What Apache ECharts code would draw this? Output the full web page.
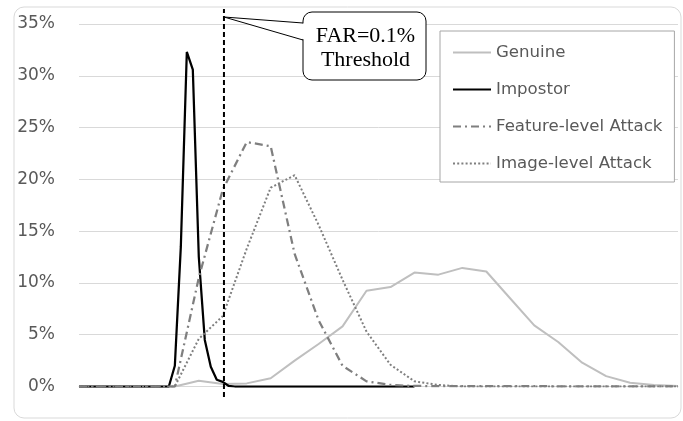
<!DOCTYPE html>
<html>
<head>
<meta charset="utf-8">
<script src="https://cdn.jsdelivr.net/npm/echarts@6/dist/echarts.min.js"></script>
<style>
html,body{margin:0;padding:0;background:#fff;}
#c{width:683px;height:421px;}
</style>
</head>
<body>
<div id="c"></div>
<script>
// ---- data ----
var seriesNames = ['Genuine', 'Impostor', 'Feature-level Attack', 'Image-level Attack'];
var yTicks = [0, 5, 10, 15, 20, 25, 30, 35];

var genuineX = [0, 0.04, 0.08, 0.12, 0.16, 0.20, 0.24, 0.28, 0.32, 0.36, 0.40, 0.44, 0.48, 0.52, 0.56, 0.60, 0.64, 0.68, 0.72, 0.76, 0.80, 0.84, 0.88, 0.92, 0.96, 1.00];
var genuineY = [0, 0, 0, 0, 0, 0.55, 0.25, 0.3, 0.8, 2.5, 4.1, 5.8, 9.25, 9.6, 11.0, 10.8, 11.45, 11.1, 8.5, 5.9, 4.3, 2.3, 1.0, 0.37, 0.15, 0.05];

var impostorX = [0, 0.15, 0.16, 0.17, 0.18, 0.19, 0.20, 0.21, 0.22, 0.23, 0.24, 0.25, 0.26, 0.56];
var impostorY = [0, 0, 2.0, 13.5, 32.3, 30.6, 12.5, 4.5, 1.9, 0.65, 0.45, 0.05, 0, 0];

var featureX = [0, 0.16, 0.20, 0.24, 0.28, 0.32, 0.36, 0.40, 0.44, 0.48, 0.52, 0.56, 1.00];
var featureY = [0, 0, 10.5, 19.0, 23.6, 23.2, 12.8, 6.4, 2.0, 0.5, 0.15, 0.05, 0];

var imageX = [0, 0.16, 0.20, 0.24, 0.28, 0.32, 0.36, 0.40, 0.44, 0.48, 0.52, 0.56, 0.60, 0.64, 1.00];
var imageY = [0, 0, 4.6, 6.8, 13.3, 19.2, 20.4, 15.6, 10.3, 5.3, 2.1, 0.5, 0.15, 0, 0];

var thresholdX = 0.242;
var calloutText = 'FAR=0.1%\nThreshold';

function pairs(xs, ys) { return xs.map(function (x, i) { return [x, ys[i]]; }); }

var chart = echarts.init(document.getElementById('c'), null, { renderer: 'canvas' });
var sansFont = 'DejaVu Sans';

var option = {
  animation: false,
  backgroundColor: '#ffffff',
  grid: [
    { left: 79, right: 5, top: 24, bottom: 34.5 },
    { left: 79, right: 5, top: 9, bottom: 24 }
  ],
  xAxis: [
    { type: 'value', gridIndex: 0, min: 0, max: 1, axisLabel: { show: false }, axisTick: { show: false },
      splitLine: { show: false }, axisLine: { show: true, lineStyle: { color: '#d9d9d9' } } },
    { type: 'value', gridIndex: 1, min: 0, max: 1, show: false }
  ],
  yAxis: [
    { type: 'value', gridIndex: 0, min: yTicks[0], max: yTicks[yTicks.length - 1], interval: 5,
      axisLine: { show: false }, axisTick: { show: false },
      axisLabel: { formatter: '{value}%', fontFamily: sansFont, fontSize: 17, color: '#595959', margin: 24 },
      splitLine: { lineStyle: { color: '#d9d9d9', width: 1 } } },
    { type: 'value', gridIndex: 1, min: 0, max: 1, show: false }
  ],
  legend: {
    data: seriesNames,
    orient: 'vertical',
    left: 440, top: 31,
    padding: [13, 12, 10, 12],
    itemWidth: 38, itemHeight: 16, itemGap: 20,
    borderColor: '#a6a6a6', borderWidth: 1, backgroundColor: '#ffffff',
    itemStyle: { color: 'rgba(0,0,0,0)', borderWidth: 0, opacity: 0 },
    textStyle: { fontFamily: sansFont, fontSize: 16.6, color: '#595959', lineHeight: 16 },
    selectedMode: false
  },
  series: [
    { name: seriesNames[0], type: 'line', xAxisIndex: 0, yAxisIndex: 0, data: pairs(genuineX, genuineY),
      symbol: 'none', lineStyle: { color: '#bfbfbf', width: 2 }, itemStyle: { color: '#bfbfbf' }, z: 2 },
    { name: seriesNames[1], type: 'line', xAxisIndex: 0, yAxisIndex: 0, data: pairs(impostorX, impostorY),
      symbol: 'none', lineStyle: { color: '#000000', width: 2.25 }, itemStyle: { color: '#000000' }, z: 3 },
    { name: seriesNames[2], type: 'line', xAxisIndex: 0, yAxisIndex: 0, data: pairs(featureX, featureY),
      symbol: 'none', lineStyle: { color: '#7f7f7f', width: 2.25, type: [8, 4, 2, 4] }, itemStyle: { color: '#7f7f7f' }, z: 4 },
    { name: seriesNames[3], type: 'line', xAxisIndex: 0, yAxisIndex: 0, data: pairs(imageX, imageY),
      symbol: 'none', lineStyle: { color: '#7f7f7f', width: 2, type: [2, 2.2] }, itemStyle: { color: '#7f7f7f' }, z: 5 },
    { name: 'Threshold', type: 'line', xAxisIndex: 1, yAxisIndex: 1, data: [[thresholdX, 0], [thresholdX, 1]],
      symbol: 'none', silent: true, lineStyle: { color: '#000000', width: 2, type: [5, 3] }, z: 6 }
  ]
};
chart.setOption(option);

var topPt = chart.convertToPixel({ xAxisIndex: 1, yAxisIndex: 1 }, [thresholdX, 1]);
var tipX = topPt[0], tipY = topPt[1] + 8;
var bx = 303, by = 12, bw = 123, bh = 68;

chart.setOption({
  graphic: [
    { type: 'rect', silent: true, z: 0, shape: { x: 14, y: 7, width: 667, height: 411, r: 10 },
      style: { fill: 'none', stroke: '#d9d9d9', lineWidth: 1 } },
    { type: 'rect', silent: true, z: 100, shape: { x: bx, y: by, width: bw, height: bh, r: 9 },
      style: { fill: '#ffffff', stroke: '#000000', lineWidth: 1 } },
    { type: 'polygon', silent: true, z: 101, shape: { points: [[bx + 1.5, 23.5], [tipX, tipY], [bx + 1.5, 39.5]] },
      style: { fill: '#ffffff', stroke: 'none' } },
    { type: 'polyline', silent: true, z: 102, shape: { points: [[bx, 23], [tipX, tipY], [bx, 40]] },
      style: { fill: 'none', stroke: '#000000', lineWidth: 1 } },
    { type: 'text', silent: true, z: 103, x: bx + bw / 2 + 1, y: by + bh / 2 + 2,
      style: { text: calloutText, fontFamily: 'Liberation Serif', fontSize: 22, lineHeight: 24,
        fill: '#000000', align: 'center', verticalAlign: 'middle' } }
  ]
});
</script>
</body>
</html>
